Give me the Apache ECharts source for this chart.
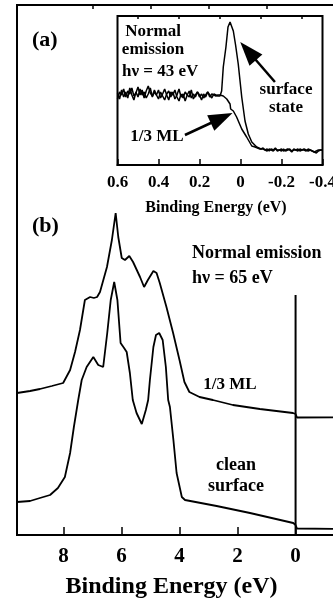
<!DOCTYPE html>
<html><head><meta charset="utf-8">
<script src="https://cdn.jsdelivr.net/npm/echarts@6/dist/echarts.min.js"></script>
<style>html,body{margin:0;padding:0;background:#fff}#c{width:333px;height:601px}</style>
</head><body><div id="c"></div><script>
// ---- Panel (b): valence band spectra, hv = 65 eV (binding energy eV, intensity arb. units)
var mainMajorTicks = [0, 2, 4, 6, 8];
var mainMinorTicks = [1, 3, 5, 7];
var mainML = [
  [9.6,142],[9.15,144],[8.81,146],[8.4,149],[8.01,152],[7.77,165],[7.6,183],[7.43,205],[7.26,235],
  [7.08,238],[6.95,237],[6.84,238],[6.74,243],[6.5,268],[6.33,295],[6.2,322],[6.11,298],
  [5.99,277],[5.88,275],[5.73,279],[5.6,273],[5.36,258],[5.22,248],[5.09,255],[4.9,264],
  [4.79,262],[4.68,252],[4.45,228],[4.22,202],[4.0,175],[3.83,153],[3.66,143],[3.31,138],
  [2.85,135],[2.16,130],[1.23,126],[0.09,122],[0.0,121],[-0.05,117.5],[-1.6,117.7]
];
var mainClean = [
  [9.6,33],[9.15,34],[8.81,37],[8.46,40],[8.19,47],[7.95,58],[7.77,82],[7.64,108],[7.49,135],
  [7.37,155],[7.2,168],[6.97,178],[6.8,170],[6.63,168],[6.49,202],[6.37,235],[6.25,253],
  [6.14,235],[6.03,192],[5.91,187],[5.82,183],[5.71,162],[5.61,135],[5.48,122],[5.3,111],
  [5.16,125],[5.08,135],[5.02,155],[4.9,188],[4.81,200],[4.7,202],[4.58,195],[4.47,168],
  [4.39,135],[4.33,128],[4.21,95],[4.1,62],[3.92,38],[3.81,35],[2.72,29],[1.57,22],
  [0.08,12],[0.0,10],[-0.05,6.5],[-1.6,6]
];
var fermiLevel = [[0,0],[0,240]];

// ---- Panel (a) inset: surface state, hv = 43 eV
var insetMajorTicks = [-0.4, -0.2, 0, 0.2, 0.4, 0.6];
var insetMinorTicks = [-0.3, -0.1, 0.1, 0.3, 0.5];
var insetClean = [
  [0.60,66],[0.59,73],[0.58,70],[0.57,76],[0.56,68],[0.55,74],[0.54,71],[0.53,77],[0.52,69],
  [0.51,72],[0.50,78],[0.49,70],[0.48,75],[0.47,67],[0.46,74],[0.45,79],[0.44,72],[0.43,69],
  [0.42,75],[0.41,70],[0.40,66],[0.39,73],[0.38,69],[0.37,65],[0.36,71],[0.35,74],[0.34,68],
  [0.33,73],[0.32,66],[0.31,70],[0.30,76],[0.29,68],[0.28,71],[0.27,64],[0.26,70],[0.25,74],
  [0.24,67],[0.23,71],[0.22,68],[0.21,73],[0.20,70],[0.19,65],[0.18,71],[0.17,68],[0.16,73],
  [0.15,70],[0.14,67],[0.13,71],[0.12,70],[0.11,69],[0.10,69],[0.092,74],[0.084,98],
  [0.071,118],[0.061,138],[0.051,143],[0.035,134],[0.024,120],[0.011,101],[-0.006,68],
  [-0.022,44],[-0.038,31],[-0.055,23],[-0.079,18],[-0.10,16],[-0.11,17],[-0.12,15],[-0.13,16],
  [-0.14,14],[-0.15,16],[-0.16,15],[-0.17,17],[-0.18,14],[-0.19,15],[-0.20,16],[-0.21,14],
  [-0.22,15],[-0.23,16],[-0.24,15],[-0.25,13],[-0.26,16],[-0.27,15],[-0.28,14],[-0.29,16],
  [-0.30,15],[-0.31,15],[-0.32,14],[-0.33,16],[-0.34,15],[-0.35,14],[-0.36,13],[-0.37,12],
  [-0.38,14],[-0.39,15],[-0.40,15]
];
var insetML = [
  [0.60,72],[0.59,66],[0.58,75],[0.57,68],[0.56,73],[0.55,67],[0.54,77],[0.53,70],[0.52,65],
  [0.51,73],[0.50,68],[0.49,76],[0.48,70],[0.47,73],[0.46,67],[0.45,71],[0.44,77],[0.43,68],
  [0.42,73],[0.41,70],[0.40,75],[0.39,67],[0.38,71],[0.37,76],[0.36,70],[0.35,65],[0.34,73],
  [0.33,70],[0.32,75],[0.31,68],[0.30,64],[0.29,71],[0.28,67],[0.27,73],[0.26,70],[0.25,68],
  [0.24,75],[0.23,66],[0.22,70],[0.21,73],[0.20,68],[0.19,71],[0.18,67],[0.17,70],[0.16,73],
  [0.15,68],[0.14,71],[0.13,70],[0.12,69],[0.11,70],[0.10,70],[0.084,69],[0.067,66],
  [0.051,61],[0.048,56],[0.035,54],[0.019,48],[-0.006,36],[-0.03,28],[-0.055,19],[-0.071,18],
  [-0.095,16],[-0.11,16],[-0.12,15],[-0.13,14],[-0.14,16],[-0.15,15],[-0.16,14],[-0.17,16],
  [-0.18,15],[-0.19,15],[-0.20,14],[-0.21,16],[-0.22,14],[-0.23,15],[-0.24,16],[-0.25,14],
  [-0.26,15],[-0.27,15],[-0.28,16],[-0.29,14],[-0.30,15],[-0.31,16],[-0.32,15],[-0.33,14],
  [-0.34,15],[-0.35,14],[-0.36,13],[-0.37,14],[-0.38,15],[-0.39,15],[-0.40,15]
];
// arrows (tail -> head) in inset data coordinates
var arrowSurface = [[-0.168,83],[-0.037,114]];
var arrowML = [[0.271,30],[0.092,47]];

var SERIF = '"Liberation Serif", "DejaVu Serif", serif';
var chart = echarts.init(document.getElementById('c'), null, {renderer: 'canvas'});
function fmt(v){ return Math.abs(v) < 1e-9 ? '0' : (Math.round(v*10)/10).toString(); }

chart.setOption({
  animation: false,
  backgroundColor: '#fff',
  grid: [
    {left: 17, top: 5, width: 325, height: 530, show: true, borderColor: '#000', borderWidth: 2, backgroundColor: 'transparent',
     containLabel: false, outerBoundsMode: 'none'},
    {left: 117.5, top: 16, width: 205, height: 149, show: true, borderColor: '#000', borderWidth: 2, backgroundColor: '#fff',
     containLabel: false, outerBoundsMode: 'none'}
  ],
  xAxis: [
    {gridIndex: 0, type: 'value', inverse: true, min: -1.6, max: 9.6,
     axisLine: {lineStyle: {color: '#000', width: 2}},
     axisTick: {inside: true, length: 8, customValues: mainMajorTicks, lineStyle: {color: '#000', width: 1.5}},
     axisLabel: {customValues: mainMajorTicks, formatter: fmt, color: '#000', fontSize: 21, fontWeight: 'bold', fontFamily: SERIF, margin: 11},
     splitLine: {show: false},
     name: 'Binding Energy (eV)', nameLocation: 'middle', nameGap: 40,
     nameTextStyle: {color: '#000', fontSize: 24, fontWeight: 'bold', fontFamily: SERIF, padding: [0, 16, 0, 0]}},
    {gridIndex: 0, type: 'value', inverse: true, min: -1.6, max: 9.6,
     axisLine: {show: false},
     axisTick: {inside: true, length: 4, customValues: mainMinorTicks, lineStyle: {color: '#000', width: 1.5}},
     axisLabel: {show: false}, splitLine: {show: false}},
    {gridIndex: 1, type: 'value', inverse: true, min: -0.4, max: 0.6,
     axisLine: {lineStyle: {color: '#000', width: 2}},
     axisTick: {inside: true, length: 6, customValues: insetMajorTicks, lineStyle: {color: '#000', width: 1.5}},
     axisLabel: {customValues: insetMajorTicks, formatter: fmt, color: '#000', fontSize: 17, fontWeight: 'bold', fontFamily: SERIF, margin: 9, showMinLabel: true, showMaxLabel: true},
     splitLine: {show: false},
     name: 'Binding Energy (eV)', nameLocation: 'middle', nameGap: 35,
     nameTextStyle: {color: '#000', fontSize: 16, fontWeight: 'bold', fontFamily: SERIF, padding: [0, 8, 0, 0]}},
    {gridIndex: 1, type: 'value', inverse: true, min: -0.4, max: 0.6,
     axisLine: {show: false},
     axisTick: {inside: true, length: 3, customValues: insetMinorTicks, lineStyle: {color: '#000', width: 1.5}},
     axisLabel: {show: false}, splitLine: {show: false}}
  ],
  yAxis: [
    {gridIndex: 0, type: 'value', min: 0, max: 530, show: false},
    {gridIndex: 1, type: 'value', min: 0, max: 149, show: false}
  ],
  series: [
    {name: '1/3 ML (b)', type: 'line', xAxisIndex: 0, yAxisIndex: 0, data: mainML, symbol: 'none', silent: true,
     lineStyle: {color: '#000', width: 1.8}},
    {name: 'clean surface (b)', type: 'line', xAxisIndex: 0, yAxisIndex: 0, data: mainClean, symbol: 'none', silent: true,
     lineStyle: {color: '#000', width: 1.8}},
    {name: 'Fermi level', type: 'line', xAxisIndex: 0, yAxisIndex: 0, data: fermiLevel, symbol: 'none', silent: true,
     lineStyle: {color: '#000', width: 2}},
    {name: 'clean (a)', type: 'line', xAxisIndex: 2, yAxisIndex: 1, data: insetClean, symbol: 'none', silent: true,
     lineStyle: {color: '#000', width: 1.5},
     markLine: {silent: true, symbol: ['none', 'triangle'], symbolSize: [17, 24], label: {show: false},
       lineStyle: {color: '#000', width: 2.5, type: 'solid'},
       data: [
         [{coord: arrowSurface[0]}, {coord: arrowSurface[1]}],
         [{coord: arrowML[0]}, {coord: arrowML[1]}]
       ]}},
    {name: '1/3 ML (a)', type: 'line', xAxisIndex: 2, yAxisIndex: 1, data: insetML, symbol: 'none', silent: true,
     lineStyle: {color: '#000', width: 1.5}}
  ],
  graphic: [
    {type: 'text', x: 32, y: 40, style: {text: '(a)', font: 'bold 22px ' + SERIF, fill: '#000', textAlign: 'left', textVerticalAlign: 'middle', align: 'left', verticalAlign: 'middle'}},
    {type: 'text', x: 32, y: 226, style: {text: '(b)', font: 'bold 22px ' + SERIF, fill: '#000', textAlign: 'left', textVerticalAlign: 'middle', align: 'left', verticalAlign: 'middle'}},
    {type: 'text', x: 153, y: 41, z: 100, style: {text: 'Normal\nemission', font: 'bold 17px ' + SERIF, lineHeight: 18, fill: '#000', textAlign: 'center', textVerticalAlign: 'middle', align: 'center', verticalAlign: 'middle'}},
    {type: 'text', x: 122, y: 72, z: 100, style: {text: 'h\u03bd = 43 eV', font: 'bold 17px ' + SERIF, fill: '#000', textAlign: 'left', textVerticalAlign: 'middle', align: 'left', verticalAlign: 'middle'}},
    {type: 'text', x: 286, y: 99, z: 100, style: {text: 'surface\nstate', font: 'bold 17px ' + SERIF, lineHeight: 18, fill: '#000', textAlign: 'center', textVerticalAlign: 'middle', align: 'center', verticalAlign: 'middle'}},
    {type: 'text', x: 157, y: 137, z: 100, style: {text: '1/3 ML', font: 'bold 17px ' + SERIF, fill: '#000', textAlign: 'center', textVerticalAlign: 'middle', align: 'center', verticalAlign: 'middle'}},
    {type: 'text', x: 192, y: 253, style: {text: 'Normal emission', font: 'bold 18px ' + SERIF, fill: '#000', textAlign: 'left', textVerticalAlign: 'middle', align: 'left', verticalAlign: 'middle'}},
    {type: 'text', x: 192, y: 278, style: {text: 'h\u03bd = 65 eV', font: 'bold 18px ' + SERIF, fill: '#000', textAlign: 'left', textVerticalAlign: 'middle', align: 'left', verticalAlign: 'middle'}},
    {type: 'text', x: 230, y: 385, style: {text: '1/3 ML', font: 'bold 17px ' + SERIF, fill: '#000', textAlign: 'center', textVerticalAlign: 'middle', align: 'center', verticalAlign: 'middle'}},
    {type: 'text', x: 236, y: 475.5, style: {text: 'clean\nsurface', font: 'bold 18px ' + SERIF, lineHeight: 21, fill: '#000', textAlign: 'center', textVerticalAlign: 'middle', align: 'center', verticalAlign: 'middle'}}
  ]
});
</script></body></html>
